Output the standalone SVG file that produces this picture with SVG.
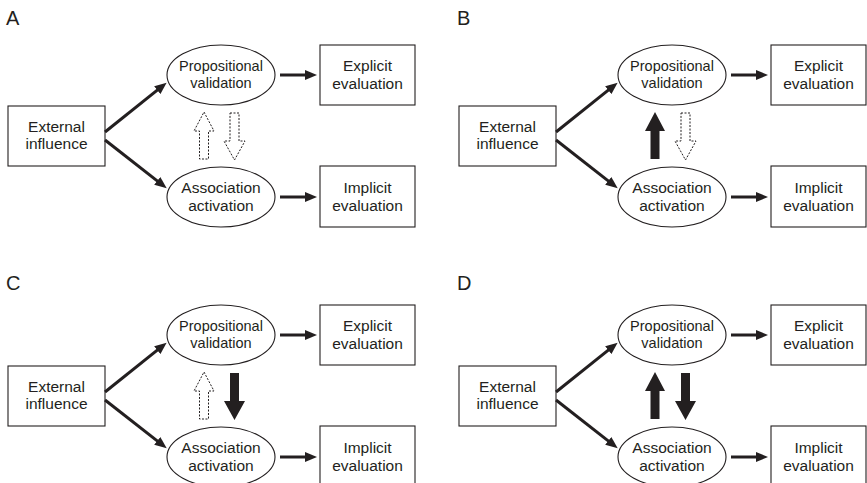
<svg xmlns="http://www.w3.org/2000/svg" xmlns:xlink="http://www.w3.org/1999/xlink" width="867" height="483" viewBox="0 0 867 483">
<style>
text{font-family:"Liberation Sans",Arial,sans-serif;font-size:15.5px;fill:#231f20;text-anchor:middle}
.lbl{text-anchor:start;font-size:20px}
.prop{font-size:14.5px}
.box{fill:#fff;stroke:#231f20;stroke-width:1.1}
.ell{fill:#fff;stroke:#231f20;stroke-width:1.1}
.con{stroke:#231f20;stroke-width:3;fill:none;marker-end:url(#ah)}
.solid{fill:#231f20;stroke:none}
.dot{fill:#fff;stroke:#231f20;stroke-width:1;stroke-dasharray:2 1.5}
</style>
<defs>
<marker id="ah" markerUnits="userSpaceOnUse" markerWidth="13" markerHeight="11" refX="4" refY="5" orient="auto">
<path d="M0,0 L12,5 L0,10 z" fill="#231f20"/>
</marker>
<polygon id="up" points="204,112 214,131 208.5,131 208.5,159 199.5,159 199.5,131 194,131"/>
<polygon id="down" points="230,113 239,113 239,141 245,141 234.5,160 224,141 230,141"/>
</defs>

<!-- Panel A -->
<g id="panelA">
<text class="lbl" x="6" y="25">A</text>
<g id="A-external"><rect class="box" x="8" y="106" width="97" height="60"/><text x="56.5" y="131.5">External</text><text x="56.5" y="149">influence</text></g>
<g id="A-propositional"><ellipse class="ell" cx="221" cy="75" rx="54" ry="30"/><text class="prop" x="221" y="71">Propositional</text><text class="prop" x="221" y="88">validation</text></g>
<g id="A-association"><ellipse class="ell" cx="221" cy="197" rx="54" ry="30"/><text x="221" y="193">Association</text><text x="221" y="211">activation</text></g>
<g id="A-explicit"><rect class="box" x="320" y="45" width="95" height="60"/><text x="367.5" y="71">Explicit</text><text x="367.5" y="89">evaluation</text></g>
<g id="A-implicit"><rect class="box" x="320" y="166" width="95" height="61"/><text x="367.5" y="193">Implicit</text><text x="367.5" y="211">evaluation</text></g>
<g id="A-connectors">
<line class="con" x1="105" y1="132" x2="160.4" y2="87.7"/>
<line class="con" x1="105" y1="140" x2="160.4" y2="183.4"/>
<line class="con" x1="280" y1="75" x2="309" y2="75"/>
<line class="con" x1="280" y1="197" x2="309" y2="197"/>
<use xlink:href="#up" class="dot"/>
<use xlink:href="#down" class="dot"/>
</g>
</g>

<!-- Panel B -->
<g id="panelB" transform="translate(451,0)">
<text class="lbl" x="6" y="25">B</text>
<g id="B-external"><rect class="box" x="8" y="106" width="97" height="60"/><text x="56.5" y="131.5">External</text><text x="56.5" y="149">influence</text></g>
<g id="B-propositional"><ellipse class="ell" cx="221" cy="75" rx="54" ry="30"/><text class="prop" x="221" y="71">Propositional</text><text class="prop" x="221" y="88">validation</text></g>
<g id="B-association"><ellipse class="ell" cx="221" cy="197" rx="54" ry="30"/><text x="221" y="193">Association</text><text x="221" y="211">activation</text></g>
<g id="B-explicit"><rect class="box" x="320" y="45" width="95" height="60"/><text x="367.5" y="71">Explicit</text><text x="367.5" y="89">evaluation</text></g>
<g id="B-implicit"><rect class="box" x="320" y="166" width="95" height="61"/><text x="367.5" y="193">Implicit</text><text x="367.5" y="211">evaluation</text></g>
<g id="B-connectors">
<line class="con" x1="105" y1="132" x2="160.4" y2="87.7"/>
<line class="con" x1="105" y1="140" x2="160.4" y2="183.4"/>
<line class="con" x1="280" y1="75" x2="309" y2="75"/>
<line class="con" x1="280" y1="197" x2="309" y2="197"/>
<use xlink:href="#up" class="solid"/>
<use xlink:href="#down" class="dot"/>
</g>
</g>

<!-- Panel C -->
<g id="panelC" transform="translate(0,260)">
<text class="lbl" x="6" y="29.5">C</text>
<g id="C-external"><rect class="box" x="8" y="106" width="97" height="60"/><text x="56.5" y="131.5">External</text><text x="56.5" y="149">influence</text></g>
<g id="C-propositional"><ellipse class="ell" cx="221" cy="75" rx="54" ry="30"/><text class="prop" x="221" y="71">Propositional</text><text class="prop" x="221" y="88">validation</text></g>
<g id="C-association"><ellipse class="ell" cx="221" cy="197" rx="54" ry="30"/><text x="221" y="193">Association</text><text x="221" y="211">activation</text></g>
<g id="C-explicit"><rect class="box" x="320" y="45" width="95" height="60"/><text x="367.5" y="71">Explicit</text><text x="367.5" y="89">evaluation</text></g>
<g id="C-implicit"><rect class="box" x="320" y="166" width="95" height="61"/><text x="367.5" y="193">Implicit</text><text x="367.5" y="211">evaluation</text></g>
<g id="C-connectors">
<line class="con" x1="105" y1="132" x2="160.4" y2="87.7"/>
<line class="con" x1="105" y1="140" x2="160.4" y2="183.4"/>
<line class="con" x1="280" y1="75" x2="309" y2="75"/>
<line class="con" x1="280" y1="197" x2="309" y2="197"/>
<use xlink:href="#up" class="dot"/>
<use xlink:href="#down" class="solid"/>
</g>
</g>

<!-- Panel D -->
<g id="panelD" transform="translate(451,260)">
<text class="lbl" x="6" y="29.5">D</text>
<g id="D-external"><rect class="box" x="8" y="106" width="97" height="60"/><text x="56.5" y="131.5">External</text><text x="56.5" y="149">influence</text></g>
<g id="D-propositional"><ellipse class="ell" cx="221" cy="75" rx="54" ry="30"/><text class="prop" x="221" y="71">Propositional</text><text class="prop" x="221" y="88">validation</text></g>
<g id="D-association"><ellipse class="ell" cx="221" cy="197" rx="54" ry="30"/><text x="221" y="193">Association</text><text x="221" y="211">activation</text></g>
<g id="D-explicit"><rect class="box" x="320" y="45" width="95" height="60"/><text x="367.5" y="71">Explicit</text><text x="367.5" y="89">evaluation</text></g>
<g id="D-implicit"><rect class="box" x="320" y="166" width="95" height="61"/><text x="367.5" y="193">Implicit</text><text x="367.5" y="211">evaluation</text></g>
<g id="D-connectors">
<line class="con" x1="105" y1="132" x2="160.4" y2="87.7"/>
<line class="con" x1="105" y1="140" x2="160.4" y2="183.4"/>
<line class="con" x1="280" y1="75" x2="309" y2="75"/>
<line class="con" x1="280" y1="197" x2="309" y2="197"/>
<use xlink:href="#up" class="solid"/>
<use xlink:href="#down" class="solid"/>
</g>
</g>
</svg>
